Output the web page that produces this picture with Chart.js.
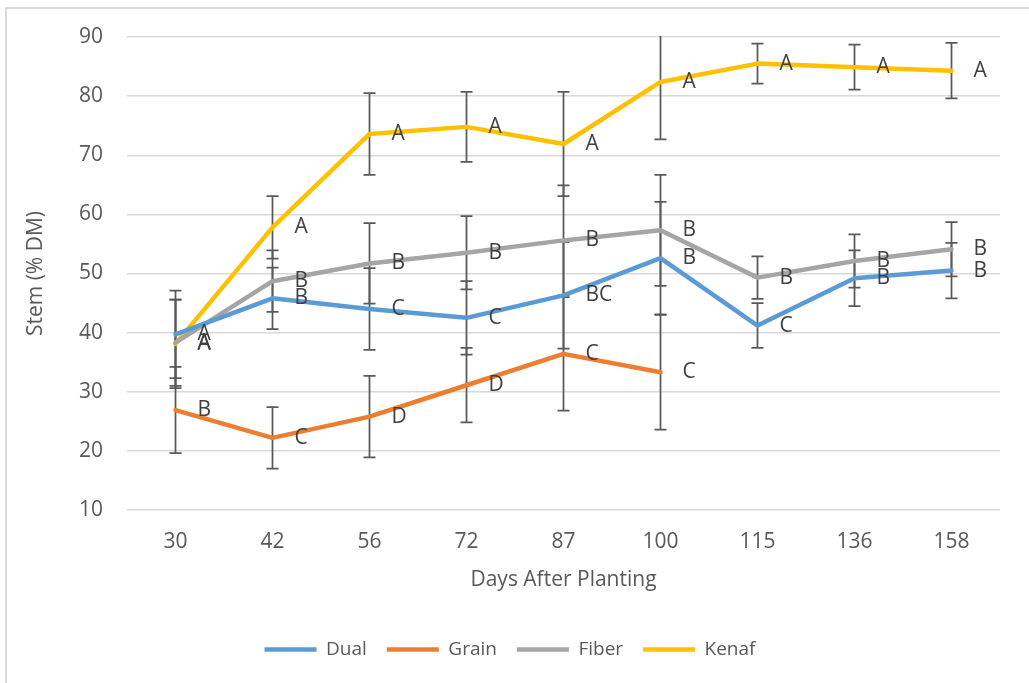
<!DOCTYPE html>
<html>
<head>
<meta charset="utf-8">
<script src="https://cdn.jsdelivr.net/npm/chart.js@4.4.1/dist/chart.umd.min.js"></script>
<style>
  html, body { margin: 0; padding: 0; background: #fff; }
  #wrap { position: relative; width: 1029px; height: 683px; }
</style>
</head>
<body>
<div id="wrap"><canvas id="stemChart" width="1029" height="683"></canvas></div>
<script>
// days after planting (x categories)
var days = ['30', '42', '56', '72', '87', '100', '115', '136', '158'];
var yTicks = [10, 20, 30, 40, 50, 60, 70, 80, 90];

// stem % DM
var dualVals  = [39.7, 45.8, 44.0, 42.5, 46.3, 52.6, 41.2, 49.2, 50.5];
var grainVals = [26.9, 22.2, 25.8, 31.1, 36.4, 33.3, null, null, null];
var fiberVals = [38.3, 48.7, 51.7, 53.5, 55.6, 57.3, 49.3, 52.1, 54.1];
var kenafVals = [38.1, 57.8, 73.6, 74.8, 71.9, 82.4, 85.5, 84.9, 84.3];

// error bar half-lengths
var dualErr  = [7.4, 5.2, 6.9, 6.2, 9.0, 9.5, 3.8, 4.7, 4.7];
var grainErr = [7.3, 5.2, 6.9, 6.3, 9.6, 9.7, null, null, null];
var fiberErr = [7.3, 5.2, 6.8, 6.2, 9.3, 9.4, 3.6, 4.5, 4.6];
var kenafErr = [7.5, 5.3, 6.9, 5.9, 8.8, 9.7, 3.4, 3.8, 4.7];

// letter groupings shown next to each point
var dualLetters  = ['A', 'B', 'C', 'C', 'BC', 'B', 'C', 'B', 'B'];
var grainLetters = ['B', 'C', 'D', 'D', 'C', 'C', '', '', ''];
var fiberLetters = ['A', 'B', 'B', 'B', 'B', 'B', 'B', 'B', 'B'];
var kenafLetters = ['A', 'A', 'A', 'A', 'A', 'A', 'A', 'A', 'A'];

var fontFam = "'Open Sans', 'Noto Sans', sans-serif";
var txtColor = '#595959';
var axisFont = { family: fontFam, size: 21 };

function makeSet(label, vals, color, errs, letters){
  return {
    label: label,
    data: vals,
    borderColor: color,
    backgroundColor: color,
    borderWidth: 4.5,
    borderCapStyle: 'round',
    borderJoinStyle: 'round',
    pointRadius: 0,
    tension: 0,
    spanGaps: false,
    errs: errs,
    letters: letters
  };
}

var chartFrame = {
  id: 'chartFrame',
  beforeDraw: function(chart){
    var ctx = chart.ctx;
    ctx.save();
    ctx.strokeStyle = '#d9d9d9';
    ctx.lineWidth = 2;
    ctx.beginPath();
    ctx.moveTo(6, 683);
    ctx.lineTo(6, 8);
    ctx.lineTo(1029, 8);
    ctx.stroke();
    ctx.restore();
  }
};

var errorBars = {
  id: 'errorBars',
  beforeDatasetsDraw: function(chart){
    var ctx = chart.ctx;
    var xs = chart.scales.x, ys = chart.scales.y;
    var area = chart.chartArea;
    ctx.save();
    ctx.beginPath();
    ctx.rect(area.left, area.top - 1, area.right - area.left, area.bottom - area.top + 2);
    ctx.clip();
    ctx.strokeStyle = '#595959';
    ctx.lineWidth = 1.75;
    chart.data.datasets.forEach(function(ds){
      ds.data.forEach(function(v, j){
        if(v == null || ds.errs[j] == null) return;
        var x = xs.getPixelForValue(j);
        var yHi = ys.getPixelForValue(v + ds.errs[j]);
        var yLo = ys.getPixelForValue(v - ds.errs[j]);
        ctx.beginPath();
        ctx.moveTo(x, yHi); ctx.lineTo(x, yLo);
        if(yHi >= area.top){ ctx.moveTo(x - 6, yHi); ctx.lineTo(x + 6, yHi); }
        ctx.moveTo(x - 6, yLo); ctx.lineTo(x + 6, yLo);
        ctx.stroke();
      });
    });
    ctx.restore();
  }
};

var letterLabels = {
  id: 'letterLabels',
  afterDatasetsDraw: function(chart){
    var ctx = chart.ctx;
    var xs = chart.scales.x, ys = chart.scales.y;
    ctx.save();
    ctx.fillStyle = '#404040';
    ctx.font = '21px ' + fontFam;
    ctx.textAlign = 'left';
    ctx.textBaseline = 'middle';
    chart.data.datasets.forEach(function(ds){
      ds.data.forEach(function(v, j){
        if(v == null || !ds.letters[j]) return;
        ctx.fillText(ds.letters[j], xs.getPixelForValue(j) + 22, ys.getPixelForValue(v));
      });
    });
    ctx.restore();
  }
};

var ctx = document.getElementById('stemChart').getContext('2d');
var chart = new Chart(ctx, {
  type: 'line',
  data: {
    labels: days,
    datasets: [
      makeSet('Dual', dualVals, '#5B9BD5', dualErr, dualLetters),
      makeSet('Grain', grainVals, '#ED7D31', grainErr, grainLetters),
      makeSet('Fiber', fiberVals, '#A5A5A5', fiberErr, fiberLetters),
      makeSet('Kenaf', kenafVals, '#FFC000', kenafErr, kenafLetters)
    ]
  },
  options: {
    responsive: false,
    animation: false,
    layout: { padding: { left: 20, right: 29, top: 37, bottom: 14 } },
    plugins: {
      tooltip: { enabled: false },
      legend: {
        position: 'bottom',
        labels: {
          usePointStyle: true,
          pointStyle: 'line',
          pointStyleWidth: 52,
          padding: 20,
          color: txtColor,
          font: { family: fontFam, size: 19 }
        }
      }
    },
    scales: {
      x: {
        offset: true,
        grid: { display: false, drawTicks: false },
        border: { display: false },
        ticks: { color: txtColor, padding: 19, font: axisFont },
        title: {
          display: true, text: 'Days After Planting', color: txtColor,
          font: axisFont, padding: { top: 4, bottom: 27 }
        },
        afterFit: function(s){ s.height = 110; }
      },
      y: {
        min: 10, max: 90,
        afterBuildTicks: function(s){ s.ticks = yTicks.map(function(v){ return { value: v }; }); },
        grid: { color: '#d9d9d9', lineWidth: 1.5, drawTicks: false },
        border: { display: false },
        ticks: { color: txtColor, padding: 24, font: axisFont },
        title: {
          display: true, text: 'Stem (% DM)', color: txtColor,
          font: axisFont, padding: { top: 3, bottom: 0 }
        },
        afterFit: function(s){ s.width = 107; }
      }
    }
  },
  plugins: [chartFrame, errorBars, letterLabels]
});
</script>
</body>
</html>
